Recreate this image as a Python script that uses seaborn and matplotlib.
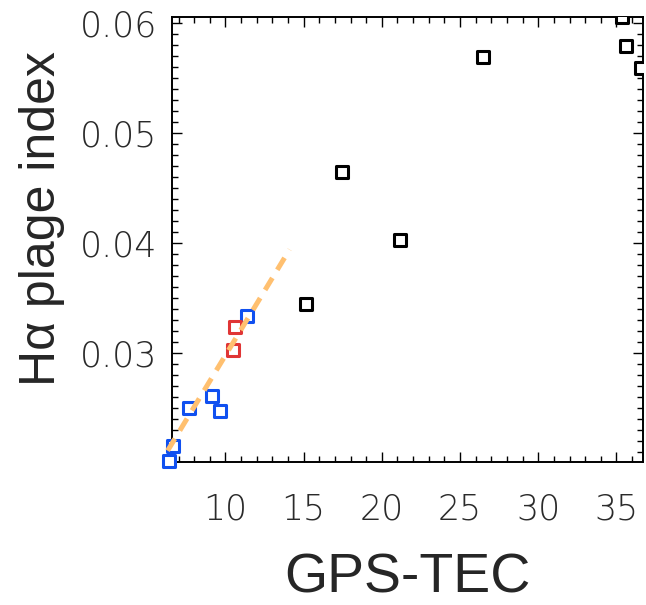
import pandas as pd
import matplotlib
matplotlib.use("Agg")
import matplotlib.pyplot as plt
from matplotlib.ticker import MultipleLocator
import seaborn as sns

# GPS-TEC vs H-alpha plage index
black_tec = [15.17, 17.42, 21.15, 26.49, 35.58, 35.36, 36.54]
black_plage = [0.03448, 0.04645, 0.0403, 0.0569, 0.05794, 0.0606, 0.0559]

blue_tec = [6.62, 6.41, 7.69, 9.15, 9.62, 11.39]
blue_plage = [0.02157, 0.0202, 0.02494, 0.02605, 0.02475, 0.03333]

red_tec = [10.58, 10.47]
red_plage = [0.03236, 0.0303]

# dashed linear trend (end points)
fit_tec = [6.3, 14.1]
fit_plage = [0.0211, 0.0394]

df_black = pd.DataFrame({"tec": black_tec, "plage": black_plage})
df_blue = pd.DataFrame({"tec": blue_tec, "plage": blue_plage})
df_red = pd.DataFrame({"tec": red_tec, "plage": red_plage})
df_fit = pd.DataFrame({"tec": fit_tec, "plage": fit_plage})

sns.set_style("ticks")
plt.rcParams["font.family"] = ["DejaVu Sans"]

fig = plt.figure(figsize=(6.46, 6.05), dpi=100)
ax = fig.add_axes([0.2655, 0.2369, 0.7299, 0.7358])

sq = dict(marker="s", s=81, facecolor="white", linewidth=2.2, legend=False)
sns.scatterplot(data=df_black, x="tec", y="plage", ax=ax, edgecolor="black",
                clip_on=True, zorder=3, **sq)
sns.scatterplot(data=df_blue, x="tec", y="plage", ax=ax, edgecolor="#1050F0",
                clip_on=False, zorder=3, **sq)
sns.scatterplot(data=df_red, x="tec", y="plage", ax=ax, edgecolor="#E03535",
                clip_on=False, zorder=3, **sq)

# trend line drawn over the squares, as in the original
sns.lineplot(data=df_fit, x="tec", y="plage", ax=ax, color="#FFC070",
             linewidth=3.6, linestyle=(0, (2.8, 1.9)),
             dash_capstyle="butt", zorder=4)
for ln in ax.lines:
    ln.set_clip_on(False)

ax.set_xlim(6.55, 36.7)
ax.set_ylim(0.0201, 0.0606)

ax.xaxis.set_major_locator(MultipleLocator(5))
ax.xaxis.set_minor_locator(MultipleLocator(1))
ax.yaxis.set_major_locator(MultipleLocator(0.01))
ax.yaxis.set_minor_locator(MultipleLocator(0.001))
ax.set_xticks([10, 15, 20, 25, 30, 35])
ax.set_yticks([0.03, 0.04, 0.05, 0.06])
ax.set_xticklabels(["10", "15", "20", "25", "30", "35"])
ax.set_yticklabels(["0.03", "0.04", "0.05", "0.06"])

ax.tick_params(which="both", direction="in", top=True, right=True,
               width=1.0, color="black")
ax.tick_params(which="major", length=7)
ax.tick_params(which="minor", length=4)
ax.tick_params(axis="x", which="major", pad=22)
ax.tick_params(axis="y", which="major", pad=10)

for lab in ax.get_xticklabels() + ax.get_yticklabels():
    lab.set_fontsize(25)
    lab.set_fontweight("ultralight")
    lab.set_color("#2a2a2a")

for sp in ax.spines.values():
    sp.set_linewidth(1.4)
    sp.set_color("black")

ax.set_xlabel("GPS-TEC", fontsize=40, family="Liberation Sans", labelpad=19)
ax.set_ylabel("Hα plage index", fontsize=36, family="Liberation Sans")
ax.yaxis.set_label_coords(-0.226, 0.547)

fig.savefig("out.png", dpi=100)
